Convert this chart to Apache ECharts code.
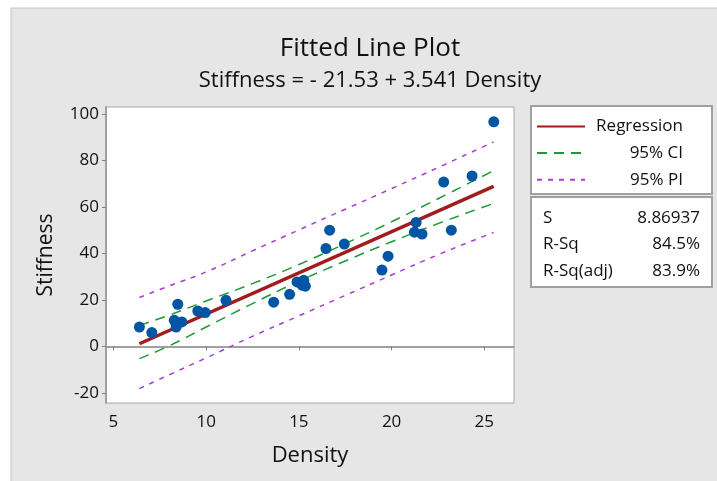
<!DOCTYPE html>
<html>
	<head>
		<meta charset="utf-8" />
		<title>Fitted Line Plot</title>
		<script src="https://cdn.jsdelivr.net/npm/echarts@6/dist/echarts.min.js"></script>
		<style>
			* {
				margin: 0;
				padding: 0;
				box-sizing: border-box;
			}
			body {
				background: #fff;
			}
		</style>
	</head>
	<body>
		<div id="main" style="width: 717px; height: 481px"></div>
		<script>
			// 数据：从图中读出
			var density = [6.4, 7.07, 8.47, 8.28, 8.38, 8.69, 9.55, 9.95, 11.07, 13.64, 14.5, 14.9, 15.17, 15.35, 15.26, 16.46, 16.66, 17.45, 19.48, 19.81, 21.32, 21.23, 21.64, 22.81, 23.22, 24.34, 25.51];
			var stiffness = [8.3, 5.9, 18.1, 11.2, 8.3, 10.5, 15.2, 14.5, 19.8, 19.0, 22.4, 27.7, 26.3, 25.9, 28.4, 42.1, 50.0, 44.0, 32.8, 38.8, 53.3, 49.1, 48.3, 70.7, 50.0, 73.3, 96.6];
			var regX = [6.4, 25.5];
			var regY = [1.1, 68.8];
			var bandX = [6.4, 8, 10, 12.5, 15, 17.5, 20, 22.5, 25.5];
			var ciUpper = [9.0, 13.4, 19.5, 27.0, 35.2, 44.2, 53.6, 63.5, 75.6];
			var ciLower = [-5.3, 0.2, 8.3, 18.4, 28.0, 36.7, 45.0, 52.8, 61.5];
			var piUpper = [21.0, 26.0, 32.0, 41.1, 50.1, 59.0, 67.9, 76.9, 88.0];
			var piLower = [-18.2, -12.3, -5.0, 4.3, 13.1, 21.9, 30.7, 39.4, 49.0];
			var xTicks = [5, 10, 15, 20, 25];
			var yTicks = [-20, 0, 20, 40, 60, 80, 100];
			var statNames = ['S', 'R-Sq', 'R-Sq(adj)'];
			var statValues = ['8.86937', '84.5%', '83.9%'];

			var font = 'Open Sans';
			var ink = '#111';
			function pairs(xs, ys) {
				return xs.map(function (x, i) {
					return [x, ys[i]];
				});
			}

			var myChart = echarts.init(document.getElementById('main'));

			var graphics = [
				{type: 'rect', z: -10, shape: {x: 11, y: 8, width: 720, height: 480}, style: {fill: '#e6e6e6', stroke: '#c4c4c4', lineWidth: 1}},
				{type: 'rect', z: 1, shape: {x: 531, y: 106, width: 181, height: 88}, style: {fill: '#fff', stroke: '#a0a0a0', lineWidth: 2}},
				{type: 'rect', z: 1, shape: {x: 531, y: 197, width: 181, height: 90}, style: {fill: '#fff', stroke: '#a0a0a0', lineWidth: 2}},
			];
			statNames.forEach(function (n, i) {
				graphics.push({type: 'text', z: 2, x: 543, y: 218 + i * 26.5, style: {text: n, font: '17px ' + font, fill: ink, verticalAlign: 'middle'}});
				graphics.push({type: 'text', z: 2, x: 700, y: 218 + i * 26.5, style: {text: statValues[i], font: '17px ' + font, fill: ink, align: 'right', verticalAlign: 'middle'}});
			});

			var option = {
				backgroundColor: '#fff',
				animation: false,
				textStyle: {fontFamily: font},
				title: {
					left: 365,
					textAlign: 'center',
					top: 31,
					text: 'Fitted Line Plot',
					subtext: 'Stiffness = - 21.53 + 3.541 Density',
					itemGap: 8,
					textStyle: {fontSize: 26, fontWeight: 'normal', color: ink, fontFamily: font},
					subtextStyle: {fontSize: 22, color: ink, fontFamily: font},
				},
				grid: {
					left: 106,
					top: 107,
					width: 408,
					height: 296,
					show: true,
					backgroundColor: '#fff',
					borderColor: '#a8a8a8',
					borderWidth: 1,
				},
				legend: {
					orient: 'vertical',
					left: 536,
					top: 118,
					padding: 0,
					itemWidth: 48,
					itemHeight: 14,
					itemGap: 9.6,
					itemStyle: {opacity: 0},
					data: ['Regression', '95% CI', '95% PI'],
					formatter: function (name) {
						return '{a|' + name + '}';
					},
					textStyle: {
						rich: {a: {width: 93, align: 'right', fontSize: 17, lineHeight: 20, color: ink, fontFamily: font}},
					},
				},
				graphic: graphics,
				xAxis: {
					type: 'value',
					min: 4.6,
					max: 26.6,
					name: 'Density',
					nameLocation: 'middle',
					nameGap: 42,
					nameTextStyle: {fontSize: 22, color: ink},
					axisLine: {show: true, lineStyle: {color: '#a0a0a0', width: 2}},
					axisTick: {show: true, length: 4, customValues: xTicks, lineStyle: {color: '#808080'}},
					axisLabel: {customValues: xTicks, fontSize: 17, color: ink, margin: 11},
					splitLine: {show: false},
				},
				yAxis: {
					type: 'value',
					min: -24.4,
					max: 103,
					name: 'Stiffness',
					nameLocation: 'middle',
					nameGap: 49,
					nameTextStyle: {fontSize: 21, color: ink},
					axisLine: {show: true, lineStyle: {color: '#a0a0a0', width: 2}},
					axisTick: {show: true, length: 4, customValues: yTicks, lineStyle: {color: '#808080'}},
					axisLabel: {customValues: yTicks, fontSize: 17, color: ink, margin: 7},
					splitLine: {show: false},
				},
				series: [
					{
						name: '95% PI',
						type: 'line',
						symbol: 'none',
						smooth: true,
						data: pairs(bandX, piUpper),
						lineStyle: {color: '#a83ad6', width: 1.5, type: [5, 6]},
						itemStyle: {color: '#a83ad6'},
					},
					{
						name: '95% PI',
						type: 'line',
						symbol: 'none',
						smooth: true,
						data: pairs(bandX, piLower),
						lineStyle: {color: '#a83ad6', width: 1.5, type: [5, 6]},
						itemStyle: {color: '#a83ad6'},
					},
					{
						name: '95% CI',
						type: 'line',
						symbol: 'none',
						smooth: true,
						data: pairs(bandX, ciUpper),
						lineStyle: {color: '#1f9a35', width: 1.5, type: [10, 7]},
						itemStyle: {color: '#1f9a35'},
					},
					{
						name: '95% CI',
						type: 'line',
						symbol: 'none',
						smooth: true,
						data: pairs(bandX, ciLower),
						lineStyle: {color: '#1f9a35', width: 1.5, type: [10, 7]},
						itemStyle: {color: '#1f9a35'},
					},
					{
						name: 'Regression',
						type: 'line',
						symbol: 'none',
						data: pairs(regX, regY),
						lineStyle: {color: '#a11c1c', width: 3.5},
						itemStyle: {color: '#a11c1c'},
					},
					{
						name: 'Data',
						type: 'scatter',
						symbolSize: 11,
						data: pairs(density, stiffness),
						itemStyle: {color: '#0055a5', opacity: 1},
						z: 5,
					},
				],
			};
			option && myChart.setOption(option);
		</script>
	</body>
</html>
